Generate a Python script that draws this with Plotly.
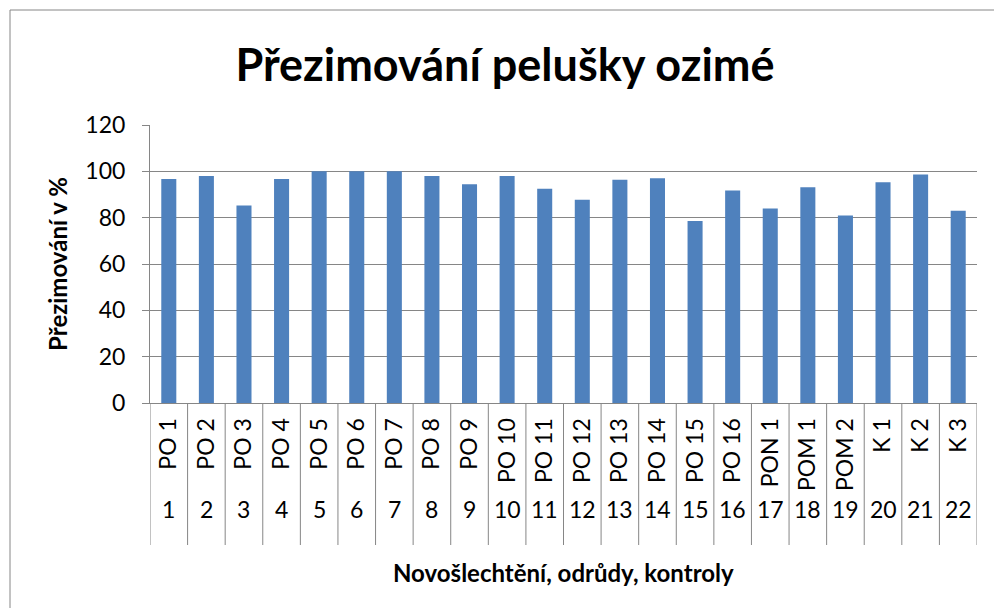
import plotly.graph_objects as go

names = ["PO 1", "PO 2", "PO 3", "PO 4", "PO 5", "PO 6", "PO 7", "PO 8", "PO 9", "PO 10",
         "PO 11", "PO 12", "PO 13", "PO 14", "PO 15", "PO 16", "PON 1", "POM 1", "POM 2",
         "K 1", "K 2", "K 3"]
numbers = [str(i) for i in range(1, 23)]
values = [96.7, 98.0, 85.2, 96.7, 100, 100, 100, 98.0, 94.4, 98.0,
          92.5, 87.7, 96.4, 97.0, 78.6, 91.7, 84.0, 93.1, 80.9, 95.3, 98.6, 83.0]
y_ticks = [0, 20, 40, 60, 80, 100, 120]

FONT = "Lato"
GREY = "#868686"
L, R, T, B = 150, 17, 125, 205
W, H = 994, 608
pw, ph = W - L - R, H - T - B

def px(x):
    return (x - L) / pw

def py(y):
    return (H - B - y) / ph

fig = go.Figure()
fig.add_trace(go.Bar(
    x=names, y=values,
    marker=dict(color="#4F81BD", line=dict(width=0)),
))

fig.update_layout(
    width=W, height=H,
    margin=dict(l=L, r=R, t=T, b=B, autoexpand=False),
    paper_bgcolor="white", plot_bgcolor="white",
    bargap=0.6, showlegend=False,
    font=dict(family=FONT, color="black", size=22),
    title=dict(text="<b>Přezimování pelušky ozimé</b>", x=px(505), xref="paper",
               xanchor="center", y=1 - 65 / H, yanchor="middle",
               font=dict(size=45, family=FONT, color="black")),
    xaxis=dict(
        type="category", tickangle=-90,
        showline=True, linecolor=GREY, linewidth=1,
        ticks="", ticklabelstandoff=5,
        tickfont=dict(size=23, family=FONT),
        range=[-0.5, len(names) - 0.5],
    ),
    yaxis=dict(
        range=[0, 120], tickvals=y_ticks,
        showgrid=True, gridcolor=GREY, gridwidth=1,
        showline=True, linecolor=GREY, linewidth=1,
        ticks="outside", ticklen=7, tickcolor=GREY, ticklabelstandoff=12,
        tickfont=dict(size=23, family=FONT),
        title=dict(text="<b>Přezimování v %</b>", font=dict(size=24, family=FONT), standoff=10),
        zeroline=False,
    ),
)

# category dividers of the two-level axis
for i in range(len(names) + 1):
    fig.add_shape(type="line", xref="x", yref="paper",
                  x0=i - 0.5, x1=i - 0.5, y0=0, y1=py(545),
                  line=dict(color=GREY, width=1))

# second level labels (numbers)
for n, num in zip(names, numbers):
    fig.add_annotation(x=n, xref="x", y=py(509), yref="paper", text=num,
                       showarrow=False, font=dict(size=23, family=FONT),
                       xanchor="center", yanchor="middle")

fig.add_annotation(x=px(563), xref="paper", y=py(572), yref="paper",
                   text="<b>Novošlechtění, odrůdy, kontroly</b>", showarrow=False,
                   font=dict(size=24, family=FONT), xanchor="center", yanchor="middle")

fig.add_shape(type="rect", xref="paper", yref="paper",
              x0=px(10), x1=px(1000), y0=py(10), y1=py(640),
              line=dict(color=GREY, width=1), fillcolor="rgba(0,0,0,0)", layer="below")

fig.write_html("out.html", config={"displayModeBar": False},
               post_script="document.body.style.margin='0';")
